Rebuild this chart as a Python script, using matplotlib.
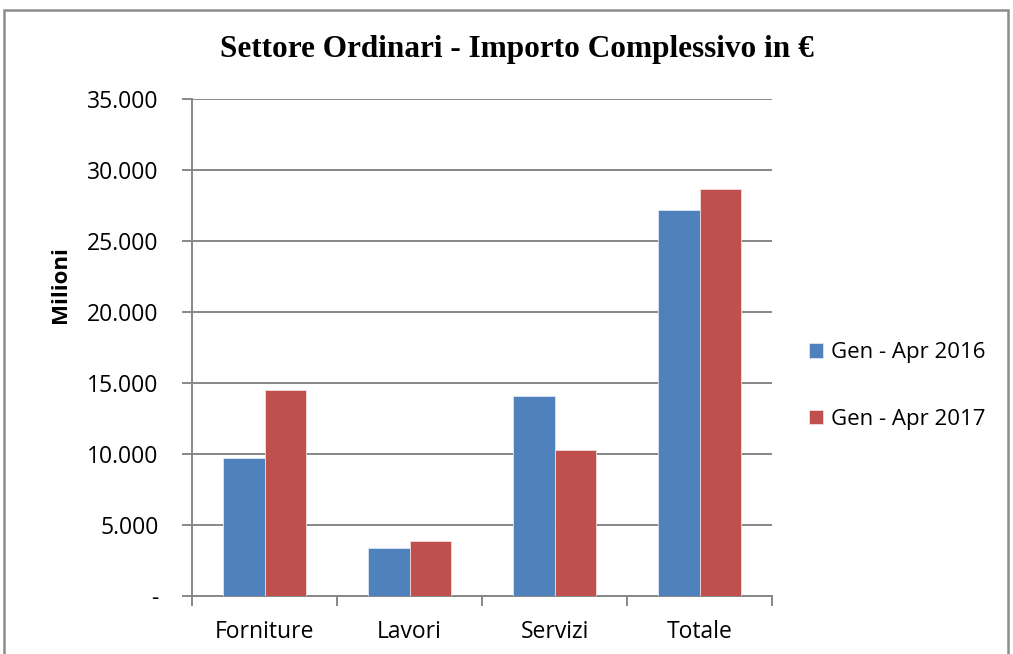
import matplotlib.pyplot as plt
import numpy as np
from matplotlib.patches import Rectangle

categorie = ["Forniture", "Lavori", "Servizi", "Totale"]
serie_2016 = [9700, 3410, 14060, 27210]
serie_2017 = [14490, 3850, 10310, 28690]
etichette_serie = ["Gen - Apr 2016", "Gen - Apr 2017"]
y_ticks = [0, 5000, 10000, 15000, 20000, 25000, 30000, 35000]
y_labels = ["-", "5.000", "10.000", "15.000", "20.000", "25.000", "30.000", "35.000"]

blu = "#4F81BD"
rosso = "#C0504D"
grigio = "#878787"
fs = 16.5

W, H = 1013, 654
fig = plt.figure(figsize=(W / 100, H / 100), dpi=100)
ax = fig.add_axes([192 / W, 1 - 596 / H, (772 - 192) / W, (596 - 99) / H])

x = np.arange(len(categorie))
larg = 0.285
ax.bar(x - larg / 2, serie_2016, larg, color=blu, edgecolor="#dce6f2", linewidth=0.6,
       label=etichette_serie[0], zorder=3)
ax.bar(x + larg / 2, serie_2017, larg, color=rosso, edgecolor="#f2dcdb", linewidth=0.6,
       label=etichette_serie[1], zorder=3)

ax.set_xlim(-0.5, len(categorie) - 0.5)
ax.set_ylim(0, 35000)
ax.set_yticks(y_ticks)
ax.set_yticklabels(y_labels, fontsize=fs, family="Open Sans")
ax.yaxis.grid(True, color=grigio, linewidth=1.4, zorder=0)
ax.set_axisbelow(True)

ax.set_xticks(x)
ax.set_xticklabels(categorie, fontsize=fs, family="Open Sans")
ax.set_xticks(np.arange(len(categorie) + 1) - 0.5, minor=True)
ax.tick_params(axis="x", which="major", length=0, pad=17)
ax.tick_params(axis="x", which="minor", length=7, width=1.4, color=grigio)
ax.tick_params(axis="y", length=7, width=1.4, color=grigio, pad=17)

for lato in ["top", "right"]:
    ax.spines[lato].set_visible(False)
for lato in ["left", "bottom"]:
    ax.spines[lato].set_color(grigio)
    ax.spines[lato].set_linewidth(1.4)

fig.text(517 / W, 1 - 50 / H, "Settore Ordinari - Importo Complessivo in €",
         ha="center", va="center", fontsize=22.5, fontweight="bold", family="Liberation Serif")
fig.text(60 / W, 1 - 285 / H, "Milioni", rotation=90, ha="center", va="center",
         fontsize=16, fontweight="bold", family="Open Sans")

leg = ax.legend(loc="center left", bbox_to_anchor=(789 / W, 1 - 386 / H),
                bbox_transform=fig.transFigure, frameon=False,
                prop={"family": "Open Sans", "size": 16},
                handlelength=0.65, handleheight=0.65, handletextpad=0.35, labelspacing=2.05)

# cornice del grafico
fig.patches.append(Rectangle((4 / W, -0.05), (1008 - 4) / W, 1 - 10 / H + 0.05,
                             transform=fig.transFigure, fill=False,
                             edgecolor="#8c8c8c", linewidth=1.8))

fig.savefig("out.png", dpi=100)
